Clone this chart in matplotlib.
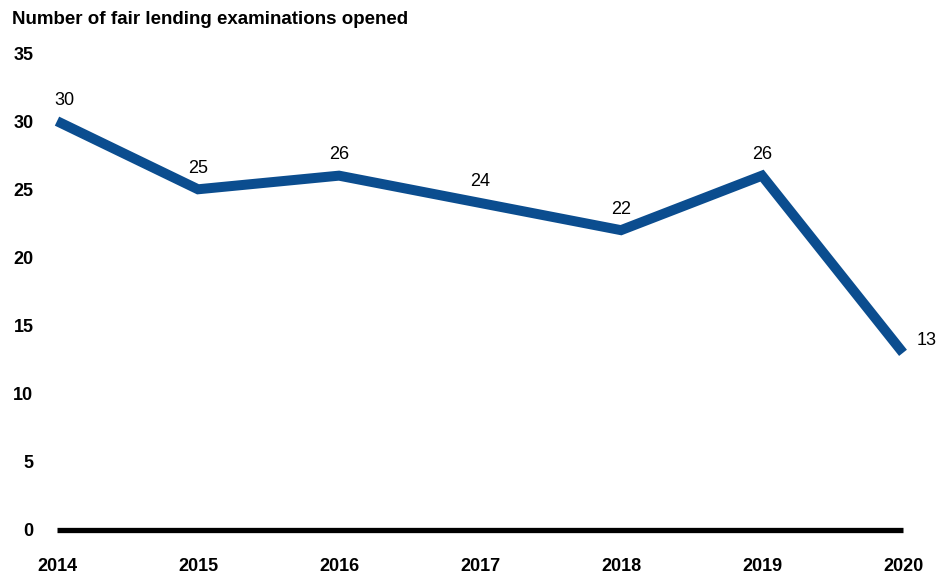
import matplotlib.pyplot as plt

plt.rcParams['font.family'] = ['Liberation Sans', 'DejaVu Sans']

years = ['2014', '2015', '2016', '2017', '2018', '2019', '2020']
exams = [30, 25, 26, 24, 22, 26, 13]

fig = plt.figure(figsize=(9.51, 5.74), dpi=100)
ax = fig.add_axes([57/951, 44/574, (903-57)/951, (530-53)/574])

x = list(range(len(years)))
ax.plot(x, exams, color='#0B4D8F', linewidth=7.2, solid_joinstyle='miter',
        solid_capstyle='butt', zorder=3, clip_on=False)
ax.axhline(0, color='black', linewidth=3.8, zorder=2, clip_on=False,
           solid_capstyle='butt')

for i, v in enumerate(exams):
    if i == len(exams) - 1:
        ax.annotate(str(v), (i, v), xytext=(10, 9), textcoords='offset points',
                    ha='left', va='center', fontsize=13)
    elif i == 0:
        ax.annotate(str(v), (i, v), xytext=(5, 9), textcoords='offset points',
                    ha='center', va='bottom', fontsize=13)
    else:
        ax.annotate(str(v), (i, v), xytext=(0, 9), textcoords='offset points',
                    ha='center', va='bottom', fontsize=13)

ax.set_xlim(0, len(years) - 1)
ax.set_ylim(0, 35)
ax.set_yticks(range(0, 36, 5))
ax.set_xticks(x)
ax.set_xticklabels(years)
ax.tick_params(length=0, labelsize=13, pad=20)
ax.tick_params(axis='y', pad=17)
for lab in ax.get_xticklabels() + ax.get_yticklabels():
    lab.set_fontweight('bold')
for s in ax.spines.values():
    s.set_visible(False)

fig.text(12/951, 1 - 20/574, 'Number of fair lending examinations opened',
         fontsize=13.5, fontweight='bold', va='center', ha='left')

fig.savefig('out.png', dpi=100)
